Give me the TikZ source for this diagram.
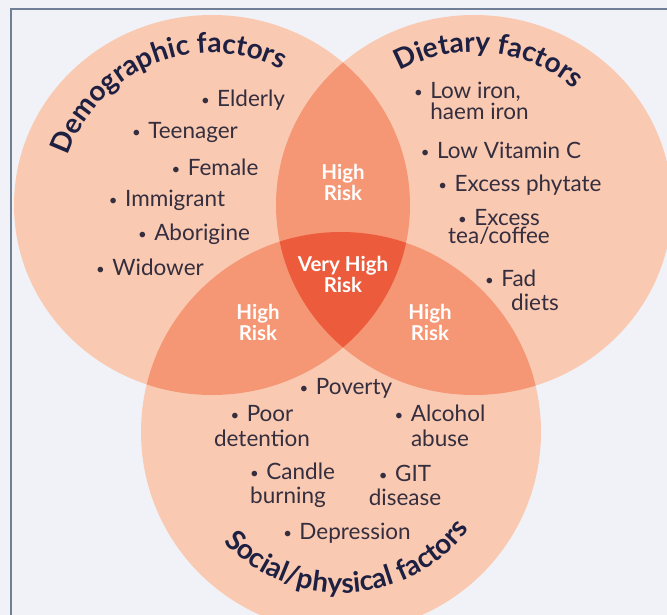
\documentclass[tikz,border=0pt]{standalone}
\usepackage{fontspec}
\setmainfont{Lato}
\usetikzlibrary{positioning, decorations.text}
\definecolor{paperC} {RGB}{241,242,247}
\definecolor{frameC} {RGB}{112,126,150}
\definecolor{oneC}   {RGB}{250,201,178}
\definecolor{twoC}   {RGB}{245,150,117}
\definecolor{threeC} {RGB}{236, 92, 60}
\definecolor{itemC}  {RGB}{ 52, 46, 62}
\definecolor{headC}  {RGB}{ 30, 32, 66}
\newcommand{\headfont}{\fontsize{28}{28}\selectfont\bfseries}
\newcommand{\bul}{\raisebox{1pt}{\fontsize{15}{15}\selectfont\textbullet}\,\,}
\tikzset{
  item/.style    = {font=\fontsize{22.5}{18}\selectfont, text=itemC, inner sep=0pt, align=center},
  risk/.style    = {font=\fontsize{20.5}{21}\selectfont\bfseries, text=white, inner sep=0pt, align=center},
  ring/.style    = {x radius=198, y radius=190},
  lowring/.style = {radius=200},
  headarc/.style = {decorate, decoration={text along path, text align=center, text color=headC,
                    text={|\headfont|#1}}},
}

\begin{document}
\begin{tikzpicture}[x=1pt, y=1pt]
\useasboundingbox (0,0) rectangle (667,615);
\fill[paperC] (0,0) rectangle (667,615);

% ---- Centres of the three sets ----------------------------------------------
\coordinate (A) at (212,410);
\coordinate (B) at (474,410);
\coordinate (C) at (341,183);

\begin{scope}
\clip (0,0) rectangle (667,615);

% ---- Frame ------------------------------------------------------------------
\draw[frameC, line width=1.2pt] (11,-5) |- (690,606);

% ---- Circles and overlaps ---------------------------------------------------
\fill[oneC] (A) ellipse[ring];
\fill[oneC] (B) ellipse[ring];
\fill[oneC] (C) circle[lowring];
\begin{scope}
  \clip (A) ellipse[ring];
  \fill[twoC] (B) ellipse[ring];
  \fill[twoC] (C) circle[lowring];
\end{scope}
\begin{scope}
  \clip (B) ellipse[ring];
  \fill[twoC] (C) circle[lowring];
\end{scope}
\begin{scope}
  \clip (A) ellipse[ring];
  \clip (B) ellipse[ring];
  \fill[threeC] (C) circle[lowring];
\end{scope}
\end{scope}

% ---- Curved headings --------------------------------------------------------
\path[headarc=Demographic factors] (A) ++(192:152) arc[start angle=192, end angle=32, radius=152];
\path[headarc=Dietary factors]     (B) ++(159:153) arc[start angle=159, end angle=9, radius=153];
\path[headarc=Social/physical factors] (C) ++(188:161) arc[start angle=188, end angle=358, radius=161];

% ---- Demographic factors ----------------------------------------------------
\foreach \nm/\x/\y/\txt in {elderly/243/515/Elderly, teen/185/482/Teenager,
    female/215/448/Female, immig/167/415/Immigrant, abor/194/381/Aborigine,
    widow/150/348/Widower}
  \node[item] (\nm) at (\x,\y) {\bul\txt};

% ---- Dietary factors --------------------------------------------------------
\node[item, anchor=west, align=left] (iron) at (414,514) {\bul Low iron,\\\phantom{\bul}haem iron};
\node[item] (vitc)    at (501,465) {\bul Low Vitamin C};
\node[item] (phytate) at (520,430) {\bul Excess phytate};
\node[item] (tea)     at (499,388) {\bul Excess\\tea/coffee};
\node[item, anchor=west, align=left] (fad) at (485,325) {\bul Fad\\[6pt]\hspace{26pt}diets};

% ---- Social/physical factors ------------------------------------------------
\node[item] (poverty) at (346,227) {\bul Poverty};
\node[item] (poor)    at (262,189) {\bul Poor\\[7pt]detention};
\node[item] (alcohol) at (440,189) {\bul Alcohol\\[7pt]abuse};
\node[item, anchor=west, align=left] (candle) at (250,130) {\bul Candle\\[6pt]burning};
\node[item] (git)     at (405,130) {\bul GIT\\[6pt]disease};
\node[item] (depr)    at (347,82)  {\bul Depression};

% ---- Risk labels ------------------------------------------------------------
\node[risk] (riskAB)  at (343,433) {High\\Risk};
\node[risk] (riskABC) at (343,341) {Very High\\Risk};
\node[risk] (riskAC)  at (258,293) {High\\Risk};
\node[risk] (riskBC)  at (430,293) {High\\Risk};

\end{tikzpicture}
\end{document}
